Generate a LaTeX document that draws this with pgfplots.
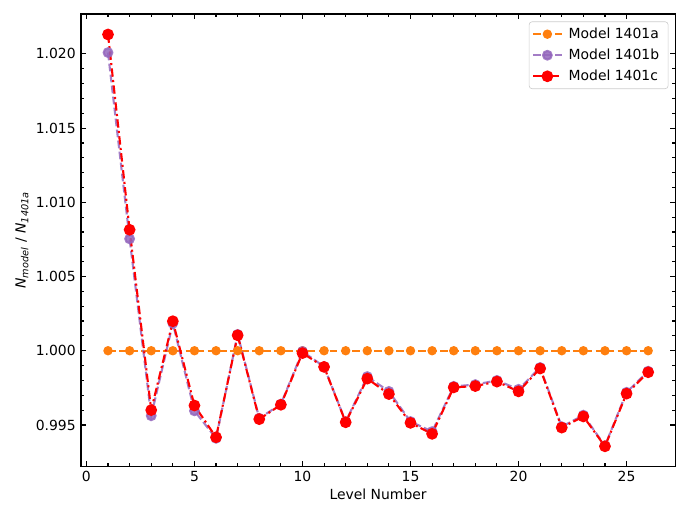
\documentclass[border=0pt]{standalone}
\usepackage{fontspec}
\setmainfont{DejaVu Sans}
\usepackage{pgfplots}
\pgfplotsset{compat=1.18}
\definecolor{mplorange}{RGB}{255,127,14}
\definecolor{mplpurple}{RGB}{148,103,189}
\begin{document}
\begin{tikzpicture}
\begin{axis}[
    scale only axis,
    width=396.8pt, height=302pt,
    xmin=-0.25, xmax=27.25,
    ymin=0.99222, ymax=1.02269,
    xtick={0,5,10,15,20,25},
    ytick={0.995,1.000,1.005,1.010,1.015,1.020},
    minor x tick num=4,
    minor y tick num=4,
    tick align=inside,
    xtick pos=both, ytick pos=both,
    major tick length=3.3pt, minor tick length=1.9pt,
    every tick/.style={black, line width=0.75pt},
    axis line style={line width=0.75pt},
    tick label style={font=\fontsize{9.3}{11}\selectfont},
    label style={font=\fontsize{9.3}{11}\selectfont},
    /pgf/number format/assume math mode=true,
    yticklabel style={/pgf/number format/.cd, fixed, fixed zerofill, precision=3},
    scaled y ticks=false,
    xlabel={Level Number},
    ylabel={\textit{N}\textsubscript{\textit{model}} / \textit{N}\textsubscript{\textit{1401a}}},
    xlabel style={yshift=2pt},
    ylabel style={yshift=-2pt},
    legend cell align=left,
    legend image code/.code={\draw[mark repeat=2, mark phase=2, #1] plot coordinates {(0pt,0pt) (9.5pt,0pt) (19pt,0pt)};},
    legend style={font=\fontsize{9.3}{11}\selectfont, draw=black!20, rounded corners=2pt,
        inner sep=2pt, row sep=1.5pt, nodes={inner xsep=4pt},
        at={(1,1)}, anchor=north east, xshift=-4.5pt, yshift=-5pt},
]
\addplot[mplorange, line width=1.4pt, dash pattern=on 5.2pt off 2.2pt, mark=*, mark size=2.4pt, mark options={solid}] coordinates {
 (1,1.000) (2,1.000) (3,1.000) (4,1.000) (5,1.000) (6,1.000) (7,1.000) (8,1.000) (9,1.000)
 (10,1.000) (11,1.000) (12,1.000) (13,1.000) (14,1.000) (15,1.000) (16,1.000) (17,1.000)
 (18,1.000) (19,1.000) (20,1.000) (21,1.000) (22,1.000) (23,1.000) (24,1.000) (25,1.000) (26,1.000)
};
\addlegendentry{Model 1401a}
\addplot[mplpurple, opacity=0.85, line width=1.4pt, dash pattern=on 5.2pt off 2.2pt, mark=*, mark size=2.9pt, mark options={solid}] coordinates {
 (1,1.02009) (2,1.00754) (3,0.99562) (4,1.00185) (5,0.99595) (6,0.99410) (7,1.00110)
 (8,0.99545) (9,0.99640) (10,0.99995) (11,0.99893) (12,0.99522) (13,0.99826) (14,0.99726)
 (15,0.99523) (16,0.99455) (17,0.99760) (18,0.99772) (19,0.99800) (20,0.99740) (21,0.99887)
 (22,0.99488) (23,0.99566) (24,0.99360) (25,0.99720) (26,0.99862)
};
\addlegendentry{Model 1401b}
\addplot[red, line width=1.4pt, dash pattern=on 5.6pt off 2.2pt on 1.4pt off 2.2pt, mark=*, mark size=3.2pt, mark options={solid}] coordinates {
 (1,1.02131) (2,1.00815) (3,0.99600) (4,1.00199) (5,0.99631) (6,0.99417) (7,1.00104)
 (8,0.99539) (9,0.99636) (10,0.99984) (11,0.99891) (12,0.99518) (13,0.99812) (14,0.99708)
 (15,0.99514) (16,0.99440) (17,0.99753) (18,0.99762) (19,0.99792) (20,0.99726) (21,0.99880)
 (22,0.99482) (23,0.99557) (24,0.99356) (25,0.99711) (26,0.99855)
};
\addlegendentry{Model 1401c}
\end{axis}
\path (-54.1pt,-35.4pt) rectangle (406.7pt,311.35pt);
\end{tikzpicture}
\end{document}
